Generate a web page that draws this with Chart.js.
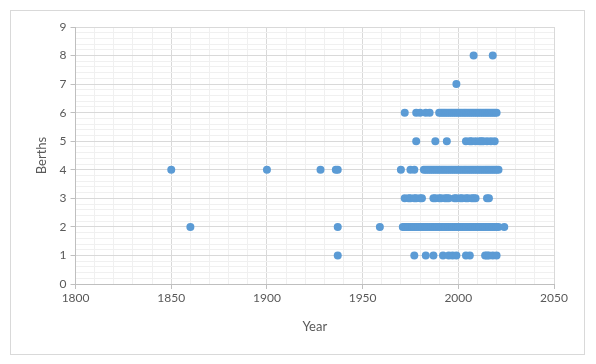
<!DOCTYPE html>
<html>
<head>
<meta charset="utf-8">
<script src="https://cdn.jsdelivr.net/npm/chart.js@4/dist/chart.umd.min.js"></script>
<style>
  html, body { margin: 0; padding: 0; background: #ffffff; }
  #wrap { width: 596px; height: 364px; position: relative; }
</style>
</head>
<body>
<div id="wrap"><canvas id="c" width="596" height="364"></canvas></div>
<script>
// Years of ships for each berth count
const berths1 = [1937, 1977, 1983, 1987, 1992, 1995, 1997, 1999, 2004, 2006, 2014, 2015, 2016, 2018, 2020];
const berths2 = [1860, 1937, 1959, 1971, 1972, 1973, 1974, 1975, 1976, 1977, 1978, 1979, 1980, 1981, 1982, 1983, 1984, 1985, 1986, 1987, 1988, 1989, 1990, 1991, 1992, 1993, 1994, 1995, 1996, 1997, 1998, 1999, 2000, 2001, 2002, 2003, 2004, 2005, 2006, 2007, 2008, 2009, 2010, 2011, 2012, 2013, 2014, 2015, 2016, 2017, 2018, 2019, 2020, 2021, 2024];
const berths3 = [1972, 1974, 1975, 1977, 1978, 1980, 1981, 1987, 1988, 1990, 1991, 1993, 1994, 1995, 1998, 1999, 2001, 2002, 2004, 2005, 2007, 2008, 2009, 2015, 2016];
const berths4 = [1850, 1900, 1928, 1936, 1937, 1970, 1975, 1977, 1982, 1983, 1984, 1985, 1986, 1987, 1988, 1989, 1990, 1991, 1992, 1993, 1994, 1995, 1996, 1997, 1998, 1999, 2000, 2001, 2002, 2003, 2004, 2005, 2006, 2007, 2008, 2009, 2010, 2011, 2012, 2013, 2014, 2015, 2016, 2017, 2018, 2019, 2020, 2021];
const berths5 = [1978, 1988, 1994, 2004, 2006, 2007, 2009, 2011, 2012, 2013, 2015, 2017, 2019];
const berths6 = [1972, 1978, 1980, 1983, 1985, 1990, 1991, 1992, 1993, 1994, 1995, 1996, 1997, 1998, 1999, 2000, 2001, 2002, 2003, 2004, 2005, 2006, 2007, 2008, 2009, 2010, 2011, 2012, 2013, 2014, 2015, 2016, 2017, 2018, 2019, 2020];
const berths7 = [1999];
const berths8 = [2008, 2018];

const rows = [[1, berths1], [2, berths2], [3, berths3], [4, berths4], [5, berths5], [6, berths6], [7, berths7], [8, berths8]];
const points = [];
rows.forEach(([b, yrs]) => yrs.forEach(y => points.push({ x: y, y: b })));

const isMajorX = v => Math.abs(v / 50 - Math.round(v / 50)) < 1e-6;
const isMajorY = v => Math.abs(v - Math.round(v)) < 1e-6;

const borderPlugin = {
  id: 'outerBorder',
  beforeDraw(chart) {
    const ctx = chart.ctx;
    ctx.save();
    ctx.fillStyle = '#ffffff';
    ctx.fillRect(0, 0, chart.width, chart.height);
    ctx.strokeStyle = '#d9d9d9';
    ctx.lineWidth = 1;
    ctx.strokeRect(10.5, 10.5, 574, 344);
    ctx.restore();
  }
};

const tickFont = { family: 'Lato, "Liberation Sans", sans-serif', size: 12 };
new Chart(document.getElementById('c'), {
  type: 'scatter',
  data: {
    datasets: [{
      data: points,
      backgroundColor: '#5b9bd5',
      borderColor: '#5b9bd5',
      pointRadius: 4,
      pointHoverRadius: 4,
      borderWidth: 0
    }]
  },
  options: {
    responsive: false,
    animation: false,
    layout: { padding: { left: 30, right: 42, top: 27, bottom: 25 } },
    plugins: { legend: { display: false }, tooltip: { enabled: false } },
    scales: {
      x: {
        type: 'linear',
        min: 1800, max: 2050,
        ticks: {
          stepSize: 10, autoSkip: false, maxRotation: 0,
          color: '#595959', font: tickFont, padding: 2,
          callback: v => isMajorX(v) ? String(v) : ''
        },
        grid: {
          color: ctx => isMajorX(ctx.tick.value) ? '#d9d9d9' : '#f0f0f0',
          tickColor: ctx => isMajorX(ctx.tick.value) ? '#bfbfbf' : 'rgba(0,0,0,0)',
          tickLength: 5
        },
        border: { color: '#bfbfbf' },
        title: { display: true, text: 'Year', color: '#595959', font: { family: 'Lato, "Liberation Sans", sans-serif', size: 13 }, padding: { top: 12 } }
      },
      y: {
        type: 'linear',
        min: 0, max: 9,
        ticks: {
          stepSize: 0.2, autoSkip: false,
          color: '#595959', font: tickFont, padding: 4,
          callback: v => isMajorY(v) ? String(Math.round(v)) : ''
        },
        grid: {
          color: ctx => isMajorY(ctx.tick.value) ? '#d9d9d9' : '#f0f0f0',
          tickColor: ctx => isMajorY(ctx.tick.value) ? '#bfbfbf' : 'rgba(0,0,0,0)',
          tickLength: 5
        },
        border: { color: '#bfbfbf' },
        title: { display: true, text: 'Berths', color: '#595959', font: { family: 'Lato, "Liberation Sans", sans-serif', size: 13 }, padding: { bottom: 6 } }
      }
    }
  },
  plugins: [borderPlugin]
});
</script>
</body>
</html>
